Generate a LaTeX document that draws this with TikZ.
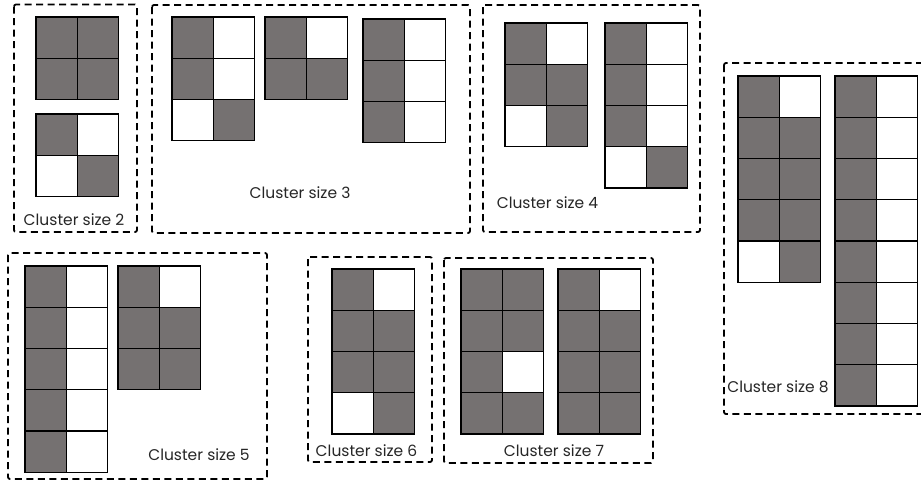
\documentclass[tikz,border=0pt]{standalone}
\usepackage{fontspec}
\setmainfont{Poppins}
\definecolor{cdark}{RGB}{117,113,113}
\tikzset{
  cd/.style={fill=cdark},
  cw/.style={fill=white},
  cellline/.style={draw=black, line width=1.3pt},
  clusterbox/.style={draw=black, line width=1.8pt, dash pattern=on 7pt off 4.5pt, rounded corners=2pt},
  lab/.style={font=\fontsize{15.5}{18}\selectfont, inner sep=0pt, text=black!85}
}
\newcommand\cgrid[3]{%
  \foreach \a/\b [count=\i from 0] in {#3} {
    \path[cellline,\a] (#1,#2+\i*41.25) rectangle ++(41.25,41.25);
    \path[cellline,\b] (#1+41.25,#2+\i*41.25) rectangle ++(41.25,41.25);
  }%
}
\begin{document}
\begin{tikzpicture}[x=1pt,y=-1pt]
\useasboundingbox (0,0) rectangle (921,482);
\clip (0,0) rectangle (921,482);
% cluster boxes
\draw[clusterbox] (14,4.5) rectangle (137,232);
\draw[clusterbox] (152,5) rectangle (470,233);
\draw[clusterbox] (483,5) rectangle (700,232);
\draw[clusterbox] (724,63) rectangle (935,414);
\draw[clusterbox] (8,253) rectangle (267,479);
\draw[clusterbox] (308,257) rectangle (432,462);
\draw[clusterbox] (444,258) rectangle (653,463);
% grids
\cgrid{36}{17}{cd/cd,cd/cd}
\cgrid{36}{114}{cd/cw,cw/cd}
\cgrid{172}{17}{cd/cw,cd/cw,cw/cd}
\cgrid{265}{17}{cd/cw,cd/cd}
\cgrid{363}{19}{cd/cw,cd/cw,cd/cw}
\cgrid{505}{23}{cd/cw,cd/cd,cw/cd}
\cgrid{605}{23}{cd/cw,cd/cw,cd/cw,cw/cd}
\cgrid{738}{76}{cd/cw,cd/cd,cd/cd,cd/cd,cw/cd}
\cgrid{835}{76}{cd/cw,cd/cw,cd/cw,cd/cw,cd/cw,cd/cw,cd/cw,cd/cw}
\cgrid{25}{266}{cd/cw,cd/cw,cd/cw,cd/cw,cd/cw}
\cgrid{118}{266}{cd/cw,cd/cd,cd/cd}
\cgrid{332}{269}{cd/cw,cd/cd,cd/cd,cw/cd}
\cgrid{461}{269}{cd/cd,cd/cd,cd/cw,cd/cd}
\cgrid{558}{269}{cd/cw,cd/cd,cd/cd,cd/cd}
% labels
\node[lab] (l2) at (74,220) {Cluster size 2};
\node[lab] (l3) at (300,192.5) {Cluster size 3};
\node[lab] (l4) at (547.5,203) {Cluster size 4};
\node[lab] (l5) at (199,454.5) {Cluster size 5};
\node[lab] (l6) at (366.5,450.5) {Cluster size 6};
\node[lab] (l7) at (554,450.5) {Cluster size 7};
\node[lab] (l8) at (778,386.5) {Cluster size 8};
\end{tikzpicture}
\end{document}
